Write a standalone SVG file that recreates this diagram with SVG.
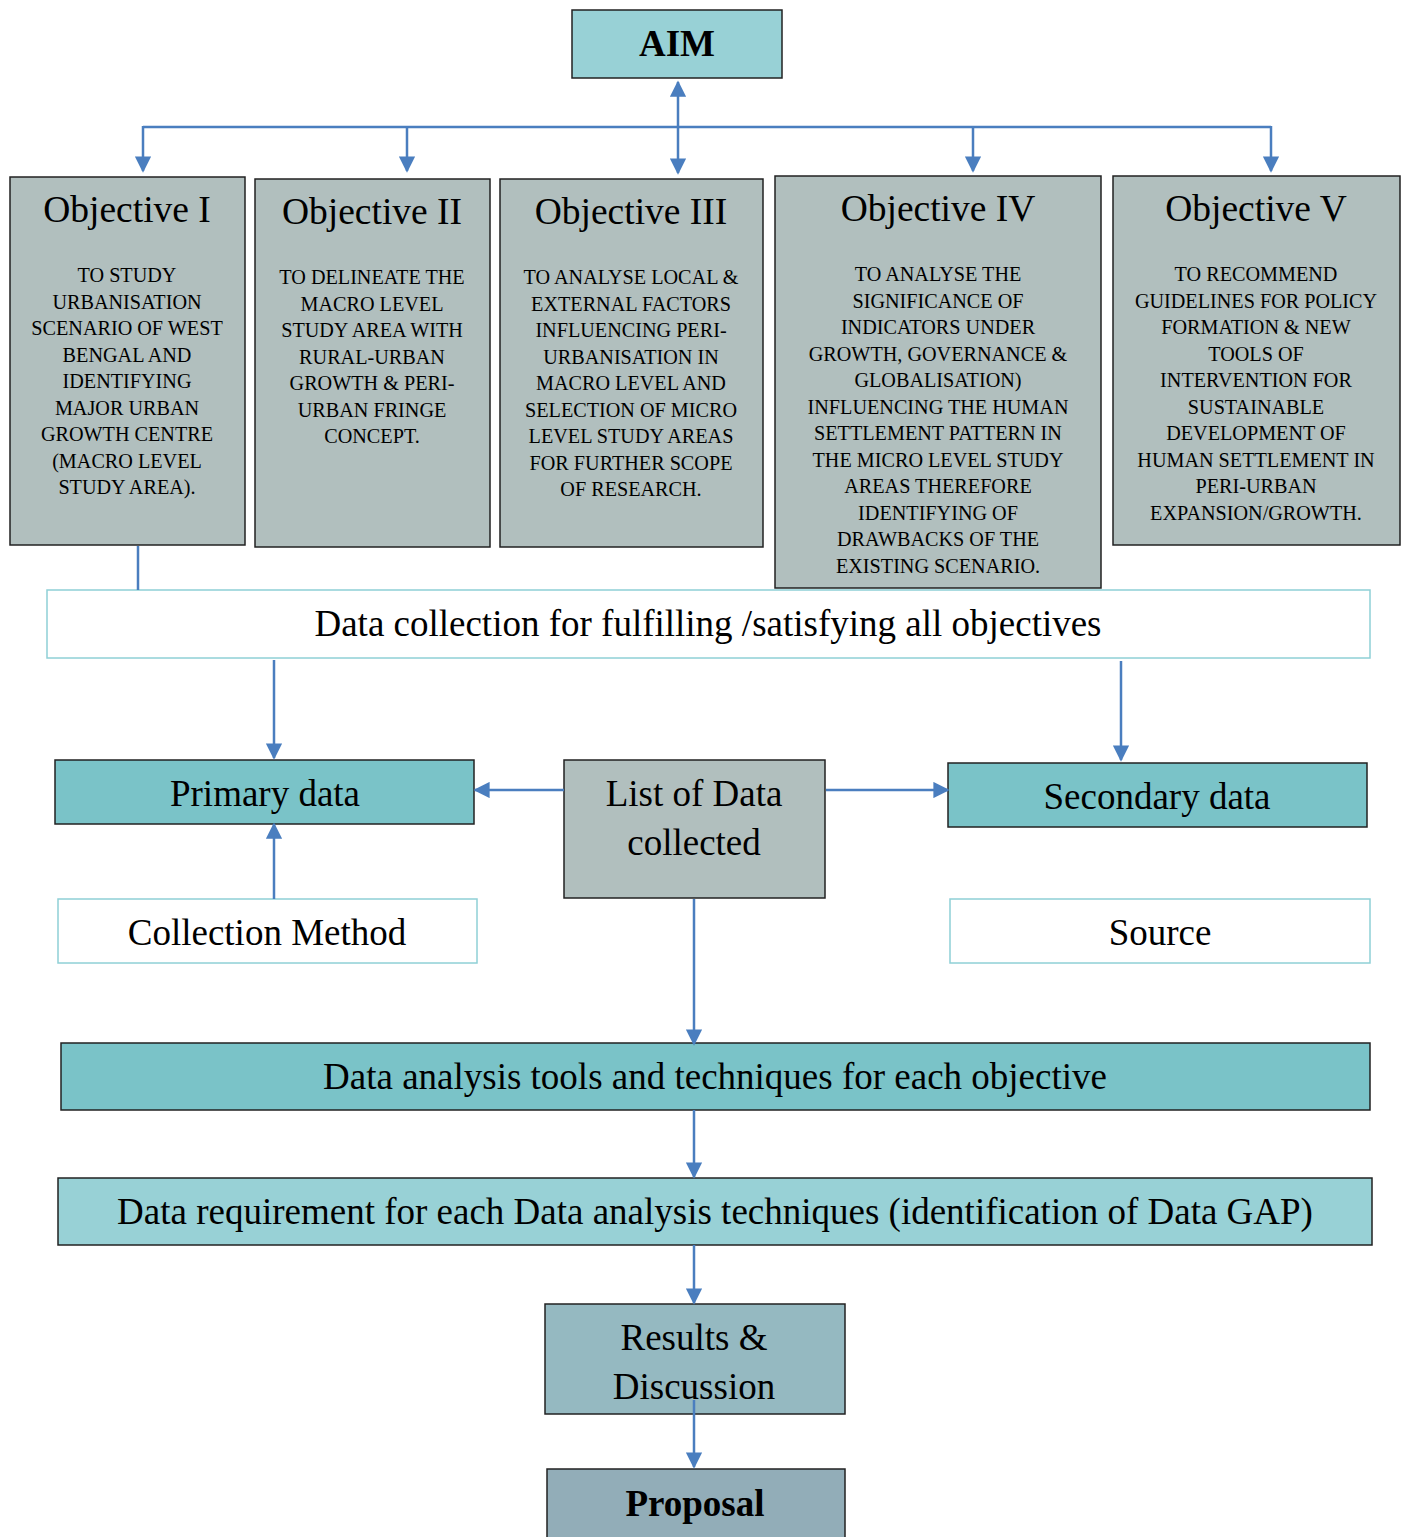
<svg xmlns="http://www.w3.org/2000/svg" width="1405" height="1537" viewBox="0 0 1405 1537">
  <style>
    text { font-family: "Liberation Serif", "Times New Roman", serif; fill: #000; text-anchor: middle; }
    .box { stroke: #222; stroke-width: 1.5; }
    .obj { fill: #b1bfbe; }
    .aim { fill: #98d1d6; }
    .teal { fill: #7ac3c8; }
    .req { fill: #98d1d6; }
    .res { fill: #95b9c1; }
    .prop { fill: #92adb8; }
    .open { fill: #fff; stroke: #8fd0d6; stroke-width: 1.5; }
    .title { font-size: 37.5px; }
    .body { font-size: 20.2px; }
    .big { font-size: 37px; }
    .bold { font-weight: bold; }
    .link { stroke: #4a7ebf; stroke-width: 2.5; fill: none; }
  </style>
  <defs>
    <marker id="arrow" viewBox="0 0 10 10" refX="9" refY="5" markerWidth="6.5" markerHeight="6.5" markerUnits="strokeWidth" orient="auto-start-reverse">
      <path d="M0,0 L10,5 L0,10 Z" fill="#4a7ebf"/>
    </marker>
  </defs>

  <g id="aim">
    <rect class="box aim" x="572" y="10" width="210" height="68"/>
    <text class="big bold" x="677" y="56">AIM</text>
  </g>

  <g id="objective-1">
    <rect class="box obj" x="10" y="177" width="235" height="368"/>
    <text class="title" x="127" y="222">Objective I</text>
    <text class="body" x="127" y="282">TO STUDY</text>
    <text class="body" x="127" y="308.5">URBANISATION</text>
    <text class="body" x="127" y="335">SCENARIO OF WEST</text>
    <text class="body" x="127" y="361.5">BENGAL AND</text>
    <text class="body" x="127" y="388">IDENTIFYING</text>
    <text class="body" x="127" y="414.5">MAJOR URBAN</text>
    <text class="body" x="127" y="441">GROWTH CENTRE</text>
    <text class="body" x="127" y="467.5">(MACRO LEVEL</text>
    <text class="body" x="127" y="494">STUDY AREA).</text>
  </g>

  <g id="objective-2">
    <rect class="box obj" x="255" y="179" width="235" height="368"/>
    <text class="title" x="372" y="224">Objective II</text>
    <text class="body" x="372" y="284">TO DELINEATE THE</text>
    <text class="body" x="372" y="310.5">MACRO LEVEL</text>
    <text class="body" x="372" y="337">STUDY AREA WITH</text>
    <text class="body" x="372" y="363.5">RURAL-URBAN</text>
    <text class="body" x="372" y="390">GROWTH &amp; PERI-</text>
    <text class="body" x="372" y="416.5">URBAN FRINGE</text>
    <text class="body" x="372" y="443">CONCEPT.</text>
  </g>

  <g id="objective-3">
    <rect class="box obj" x="500" y="179" width="263" height="368"/>
    <text class="title" x="631" y="224">Objective III</text>
    <text class="body" x="631" y="284">TO ANALYSE LOCAL &amp;</text>
    <text class="body" x="631" y="310.5">EXTERNAL FACTORS</text>
    <text class="body" x="631" y="337">INFLUENCING PERI-</text>
    <text class="body" x="631" y="363.5">URBANISATION IN</text>
    <text class="body" x="631" y="390">MACRO LEVEL AND</text>
    <text class="body" x="631" y="416.5">SELECTION OF MICRO</text>
    <text class="body" x="631" y="443">LEVEL STUDY AREAS</text>
    <text class="body" x="631" y="469.5">FOR FURTHER SCOPE</text>
    <text class="body" x="631" y="496">OF RESEARCH.</text>
  </g>

  <g id="objective-4">
    <rect class="box obj" x="775" y="176" width="326" height="412"/>
    <text class="title" x="938" y="221">Objective IV</text>
    <text class="body" x="938" y="281">TO ANALYSE THE</text>
    <text class="body" x="938" y="307.5">SIGNIFICANCE OF</text>
    <text class="body" x="938" y="334">INDICATORS UNDER</text>
    <text class="body" x="938" y="360.5">GROWTH, GOVERNANCE &amp;</text>
    <text class="body" x="938" y="387">GLOBALISATION)</text>
    <text class="body" x="938" y="413.5">INFLUENCING THE HUMAN</text>
    <text class="body" x="938" y="440">SETTLEMENT PATTERN IN</text>
    <text class="body" x="938" y="466.5">THE MICRO LEVEL STUDY</text>
    <text class="body" x="938" y="493">AREAS THEREFORE</text>
    <text class="body" x="938" y="519.5">IDENTIFYING OF</text>
    <text class="body" x="938" y="546">DRAWBACKS OF THE</text>
    <text class="body" x="938" y="572.5">EXISTING SCENARIO.</text>
  </g>

  <g id="objective-5">
    <rect class="box obj" x="1113" y="176" width="287" height="369"/>
    <text class="title" x="1256" y="221">Objective V</text>
    <text class="body" x="1256" y="281">TO RECOMMEND</text>
    <text class="body" x="1256" y="307.5">GUIDELINES FOR POLICY</text>
    <text class="body" x="1256" y="334">FORMATION &amp; NEW</text>
    <text class="body" x="1256" y="360.5">TOOLS OF</text>
    <text class="body" x="1256" y="387">INTERVENTION FOR</text>
    <text class="body" x="1256" y="413.5">SUSTAINABLE</text>
    <text class="body" x="1256" y="440">DEVELOPMENT OF</text>
    <text class="body" x="1256" y="466.5">HUMAN SETTLEMENT IN</text>
    <text class="body" x="1256" y="493">PERI-URBAN</text>
    <text class="body" x="1256" y="519.5">EXPANSION/GROWTH.</text>
  </g>

  <g id="data-collection">
    <rect class="open" x="47" y="590" width="1323" height="68"/>
    <text class="big" x="708" y="636">Data collection for fulfilling /satisfying all objectives</text>
  </g>

  <g id="primary-data">
    <rect class="box teal" x="55" y="760" width="419" height="64"/>
    <text class="big" x="265" y="806">Primary data</text>
  </g>

  <g id="list-of-data">
    <rect class="box obj" x="564" y="760" width="261" height="138"/>
    <text class="big" x="694" y="806">List of Data</text>
    <text class="big" x="694" y="855">collected</text>
  </g>

  <g id="secondary-data">
    <rect class="box teal" x="948" y="763" width="419" height="64"/>
    <text class="big" x="1157" y="809">Secondary data</text>
  </g>

  <g id="collection-method">
    <rect class="open" x="58" y="899" width="419" height="64"/>
    <text class="big" x="267" y="945">Collection Method</text>
  </g>

  <g id="source">
    <rect class="open" x="950" y="899" width="420" height="64"/>
    <text class="big" x="1160" y="945">Source</text>
  </g>

  <g id="data-analysis">
    <rect class="box teal" x="61" y="1043" width="1309" height="67"/>
    <text class="big" x="715" y="1089">Data analysis tools and techniques for each objective</text>
  </g>

  <g id="data-requirement">
    <rect class="box req" x="58" y="1178" width="1314" height="67"/>
    <text class="big" x="715" y="1224">Data requirement for each Data analysis techniques (identification of Data GAP)</text>
  </g>

  <g id="results">
    <rect class="box res" x="545" y="1304" width="300" height="110"/>
    <text class="big" x="694" y="1350">Results &amp;</text>
    <text class="big" x="694" y="1399">Discussion</text>
  </g>

  <g id="proposal">
    <rect class="box prop" x="547" y="1469" width="298" height="80"/>
    <text class="big bold" x="695" y="1516">Proposal</text>
  </g>

  <g id="connectors">
    <!-- aim to objectives -->
    <line class="link" x1="678" y1="82" x2="678" y2="173" marker-start="url(#arrow)" marker-end="url(#arrow)"/>
    <line class="link" x1="143" y1="127" x2="1271" y2="127"/>
    <line class="link" x1="143" y1="126" x2="143" y2="171" marker-end="url(#arrow)"/>
    <line class="link" x1="407" y1="126" x2="407" y2="171" marker-end="url(#arrow)"/>
    <line class="link" x1="973" y1="126" x2="973" y2="171" marker-end="url(#arrow)"/>
    <line class="link" x1="1271" y1="126" x2="1271" y2="171" marker-end="url(#arrow)"/>
    <!-- objective I down to data collection -->
    <line class="link" x1="138" y1="546" x2="138" y2="590"/>
    <!-- data collection to primary / secondary -->
    <line class="link" x1="274" y1="660" x2="274" y2="758" marker-end="url(#arrow)"/>
    <line class="link" x1="1121" y1="661" x2="1121" y2="760" marker-end="url(#arrow)"/>
    <!-- list of data to primary / secondary -->
    <line class="link" x1="564" y1="790" x2="475" y2="790" marker-end="url(#arrow)"/>
    <line class="link" x1="826" y1="790" x2="948" y2="790" marker-end="url(#arrow)"/>
    <!-- collection method up to primary -->
    <line class="link" x1="274" y1="899" x2="274" y2="824" marker-end="url(#arrow)"/>
    <!-- downward chain -->
    <line class="link" x1="694" y1="899" x2="694" y2="1044" marker-end="url(#arrow)"/>
    <line class="link" x1="694" y1="1110" x2="694" y2="1177" marker-end="url(#arrow)"/>
    <line class="link" x1="694" y1="1245" x2="694" y2="1303" marker-end="url(#arrow)"/>
    <line class="link" x1="694" y1="1400" x2="694" y2="1467" marker-end="url(#arrow)"/>
  </g>
</svg>
